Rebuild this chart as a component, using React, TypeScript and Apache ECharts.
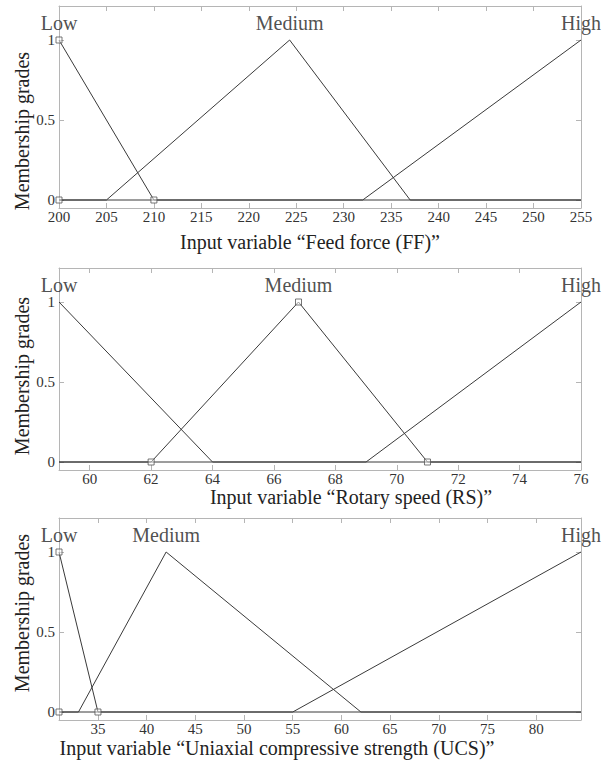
import React, { useEffect, useRef } from "react";
import * as echarts from "echarts";

// ---- Data ----
const yTicks = [0, 0.5, 1];

// Panel 1: Feed force (FF)
const ffRange = [200, 255];
const ffTicks = [200, 205, 210, 215, 220, 225, 230, 235, 240, 245, 250, 255];
const ffLow = [[200, 1], [210, 0], [255, 0]];
const ffMedium = [[200, 0], [205, 0], [224.3, 1], [237, 0], [255, 0]];
const ffHigh = [[200, 0], [232, 0], [255, 1]];
const ffMarked = [[200, 1], [200, 0], [210, 0]];

// Panel 2: Rotary speed (RS)
const rsRange = [59, 76];
const rsTicks = [60, 62, 64, 66, 68, 70, 72, 74, 76];
const rsLow = [[59, 1], [64, 0], [76, 0]];
const rsMedium = [[59, 0], [62, 0], [66.8, 1], [71, 0], [76, 0]];
const rsHigh = [[59, 0], [69, 0], [76, 1]];
const rsMarked = [[62, 0], [66.8, 1], [71, 0]];

// Panel 3: Uniaxial compressive strength (UCS)
const ucsRange = [31, 84.6];
const ucsTicks = [35, 40, 45, 50, 55, 60, 65, 70, 75, 80];
const ucsLow = [[31, 1], [35, 0], [84.6, 0]];
const ucsMedium = [[31, 0], [33, 0], [42, 1], [62, 0], [84.6, 0]];
const ucsHigh = [[31, 0], [55, 0], [84.6, 1]];
const ucsMarked = [[31, 1], [31, 0], [35, 0]];

const mfNames = ["Low", "Medium", "High"];

const xTitles = [
  "Input variable \u201cFeed force (FF)\u201d",
  "Input variable \u201cRotary speed (RS)\u201d",
  "Input variable \u201cUniaxial compressive strength (UCS)\u201d",
];
const yTitle = "Membership grades";

const FONT = "Times New Roman, Liberation Serif, DejaVu Serif, serif";
const LINE = "#3a3a3a";
const AXIS = "#b5b5b5";
const TEXT = "#222";

const panels = [
  { range: ffRange, ticks: ffTicks, mfs: [ffLow, ffMedium, ffHigh], marked: ffMarked, top: 6, xTitle: { x: 310, y: 242 }, yTitle: { x: 22, y: 131 } },
  { range: rsRange, ticks: rsTicks, mfs: [rsLow, rsMedium, rsHigh], marked: rsMarked, top: 268, xTitle: { x: 351, y: 497 }, yTitle: { x: 22, y: 376 } },
  { range: ucsRange, ticks: ucsTicks, mfs: [ucsLow, ucsMedium, ucsHigh], marked: ucsMarked, top: 518, xTitle: { x: 277, y: 748 }, yTitle: { x: 22, y: 613 } },
];

function buildOption() {
  const grid: any[] = [];
  const xAxis: any[] = [];
  const yAxis: any[] = [];
  const series: any[] = [];
  const graphic: any[] = [];

  panels.forEach((p, i) => {
    grid.push({ left: 59, right: 32, top: p.top, height: 202, containLabel: false });
    const xBase = {
      gridIndex: i,
      type: "value",
      min: p.range[0],
      max: p.range[1],
      splitLine: { show: false },
      axisLine: { show: true, onZero: false, lineStyle: { color: AXIS, width: 1 } },
      axisTick: { show: true, inside: true, length: 5, customValues: p.ticks, lineStyle: { color: AXIS } },
    };
    xAxis.push({
      ...xBase,
      position: "bottom",
      axisLabel: { customValues: p.ticks, fontSize: 15, fontFamily: FONT, color: "#333", margin: 1, lineHeight: 15 },
    });
    xAxis.push({ ...xBase, position: "top", axisLabel: { show: false } });
    const yBase = {
      gridIndex: i,
      type: "value",
      min: -0.05,
      max: 1.2125,
      splitLine: { show: false },
      axisLine: { show: true, onZero: false, lineStyle: { color: AXIS, width: 1 } },
      axisTick: { show: true, inside: true, length: 5, customValues: yTicks, lineStyle: { color: AXIS } },
    };
    yAxis.push({
      ...yBase,
      position: "left",
      axisLabel: { customValues: yTicks, fontSize: 15, fontFamily: FONT, color: "#333", margin: 4 },
    });
    yAxis.push({ ...yBase, position: "right", axisLabel: { show: false } });

    p.mfs.forEach((mf, k) => {
      series.push({
        type: "line",
        name: mfNames[k],
        xAxisIndex: i * 2,
        yAxisIndex: i * 2,
        symbol: "none",
        clip: false,
        lineStyle: { color: LINE, width: 1 },
        data: mf,
      });
      // label "Low"/"Medium"/"High" placed above each function's peak
      const peak = mf.find((pt) => pt[1] === 1);
      series.push({
        type: "scatter",
        name: mfNames[k] + " label",
        xAxisIndex: i * 2,
        yAxisIndex: i * 2,
        symbol: "circle",
        symbolSize: 1,
        clip: false,
        itemStyle: { color: "rgba(0,0,0,0)" },
        label: {
          show: true,
          position: "top",
          distance: 7,
          formatter: mfNames[k],
          fontSize: 20,
          fontFamily: FONT,
          color: TEXT,
        },
        data: [peak],
      });
    });
    series.push({
      type: "scatter",
      xAxisIndex: i * 2,
      yAxisIndex: i * 2,
      symbol: "rect",
      symbolSize: 6,
      clip: false,
      itemStyle: { color: "rgba(255,255,255,0.6)", borderColor: "#555", borderWidth: 1 },
      data: p.marked,
      z: 3,
    });

    graphic.push({
      type: "text",
      x: p.xTitle.x,
      y: p.xTitle.y,
      style: { text: xTitles[i], fontSize: 20, fontFamily: FONT, fill: TEXT, textAlign: "center", textVerticalAlign: "middle" },
    });
    graphic.push({
      type: "text",
      x: p.yTitle.x,
      y: p.yTitle.y,
      rotation: Math.PI / 2,
      style: { text: yTitle, fontSize: 20, fontFamily: FONT, fill: TEXT, textAlign: "center", textVerticalAlign: "middle" },
    });
  });

  return {
    animation: false,
    backgroundColor: "#ffffff",
    grid,
    xAxis,
    yAxis,
    series,
    graphic,
  };
}

export default function App() {
  const ref = useRef<HTMLDivElement>(null);
  useEffect(() => {
    if (!ref.current) return;
    const chart = echarts.init(ref.current, undefined, { renderer: "svg" });
    chart.setOption(buildOption() as any);
    return () => chart.dispose();
  }, []);
  return (
    <div
      ref={ref}
      style={{ position: "absolute", left: 0, top: 0, width: 613, height: 765, background: "#fff" }}
    />
  );
}
